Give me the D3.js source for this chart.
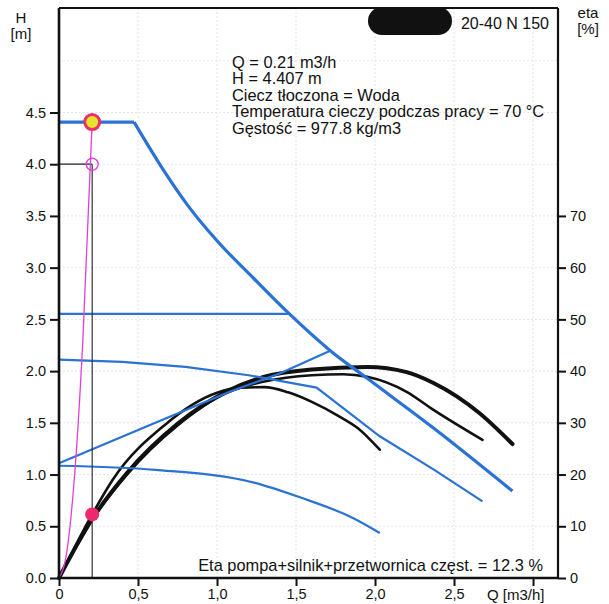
<!DOCTYPE html>
<html>
<head>
<meta charset="utf-8">
<script src="https://cdn.jsdelivr.net/npm/d3@7"></script>
<style>
  body { margin: 0; background: #fff; }
  text { font-family: "Liberation Sans", Arial, sans-serif; fill: #111; }
</style>
</head>
<body>
<div id="chart"></div>
<script>
// pump curves, Q in m3/h, H in m
var flatQ = [0, 0.475];
var flatH = [4.407, 4.407];
var maxQ = [0.475, 0.65, 0.816, 1.0, 1.23, 1.46, 1.715, 1.95, 2.37, 2.87];
var maxH = [4.407, 3.97, 3.60, 3.26, 2.90, 2.55, 2.20, 1.93, 1.45, 0.84];

var constQ = [0, 1.46];
var constH = [2.553, 2.553];

var midQ = [0, 0.4, 0.8, 1.2, 1.63, 2.03, 2.38, 2.68];
var midH = [2.11, 2.09, 2.04, 1.96, 1.84, 1.37, 1.04, 0.74];

var propQ = [0, 0.61, 1.08, 1.40, 1.72];
var propH = [1.11, 1.50, 1.80, 1.98, 2.20];

var minQ = [0, 0.61, 1.24, 1.525, 1.86, 2.03];
var minH = [1.085, 1.045, 0.92, 0.78, 0.58, 0.435];

// eta curves (%)
var etaAQ = [0, 0.21, 0.43, 0.75, 1.07, 1.3, 1.6, 1.95, 2.2, 2.37, 2.66, 2.87];
var etaAV = [0, 11.4, 20.3, 29.8, 36.2, 38.9, 40.3, 40.8, 39.8, 37.7, 31.9, 25.9];
var etaBQ = [0, 0.21, 0.43, 0.75, 1.07, 1.3, 1.6, 1.8, 1.95, 2.2, 2.37, 2.68];
var etaBV = [0, 11.2, 20.0, 29.5, 35.9, 38.0, 39.2, 39.4, 38.9, 36.0, 32.5, 26.7];
var etaCQ = [0, 0.21, 0.34, 0.67, 1.0, 1.15, 1.3, 1.45, 1.61, 1.77, 1.89, 2.03];
var etaCV = [0, 12.3, 19.0, 29.6, 35.8, 36.8, 36.9, 35.9, 33.9, 31.3, 29.0, 24.8];

// system curve
var sysQ = [0, 0.05, 0.1, 0.15, 0.21];
var sysH = [0, 0.26, 1.02, 2.27, 4.407];

var opQ = 0.21, opH = 4.407, opEta = 12.3, refH = 4.0;

var hTicks = [0, 0.5, 1, 1.5, 2, 2.5, 3, 3.5, 4, 4.5];
var qTicks = [0, 0.5, 1, 1.5, 2, 2.5, 3];
var etaTicks = [0, 10, 20, 30, 40, 50, 60, 70];
var gridH = [0.5, 1, 1.5, 2, 2.5, 3, 3.5, 4, 4.5, 5];
var gridQ = [0.5, 1, 1.5, 2, 2.5, 3];

var infoLines = ["Q = 0.21 m3/h", "H = 4.407 m", "Ciecz tłoczona = Woda",
  "Temperatura cieczy podczas pracy = 70 °C", "Gęstość = 977.8 kg/m3"];

var svgWidth = 609, svgHeight = 604;
var margin = {top: 8, right: 51, bottom: 26, left: 59};
var width = svgWidth - margin.left - margin.right;
var height = svgHeight - margin.top - margin.bottom;

var svg = d3.select("#chart").append("svg")
  .attr("width", svgWidth)
  .attr("height", svgHeight);

var g = svg.append("g")
  .attr("transform", `translate(${margin.left}, ${margin.top})`);

var x = d3.scaleLinear().domain([0, 3.158]).range([0, width]);
var y = d3.scaleLinear().domain([0, 5.51]).range([height, 0]);
var yEta = d3.scaleLinear().domain([0, 110.2]).range([height, 0]);

// faint grid
g.selectAll(".gx").data(gridQ).enter().append("line")
  .attr("x1", d => x(d)).attr("x2", d => x(d))
  .attr("y1", 0).attr("y2", height)
  .attr("stroke", "#e2e5ef").attr("stroke-width", 1)
  .attr("stroke-dasharray", "2,2");
g.selectAll(".gy").data(gridH).enter().append("line")
  .attr("x1", 0).attr("x2", width)
  .attr("y1", d => y(d)).attr("y2", d => y(d))
  .attr("stroke", "#e2e5ef").attr("stroke-width", 1)
  .attr("stroke-dasharray", "2,2");

function pts(qs, vs) { return qs.map((q, i) => [q, vs[i]]); }

var lineH = d3.line().x(d => x(d[0])).y(d => y(d[1]));
var smoothH = d3.line().x(d => x(d[0])).y(d => y(d[1])).curve(d3.curveMonotoneX);
var lineEta = d3.line().x(d => x(d[0])).y(d => yEta(d[1])).curve(d3.curveMonotoneX);

var blue = "#2a72d4";

// eta curves
[[etaAQ, etaAV, 4], [etaBQ, etaBV, 2.6], [etaCQ, etaCV, 2.6]].forEach(function(c) {
  g.append("path")
    .attr("d", lineEta(pts(c[0], c[1])))
    .attr("fill", "none").attr("stroke", "#111")
    .attr("stroke-width", c[2]).attr("stroke-linecap", "round");
});

// blue pump curves
g.append("path").attr("d", lineH(pts(constQ, constH)))
  .attr("fill", "none").attr("stroke", blue).attr("stroke-width", 2.2);
g.append("path").attr("d", lineH(pts(midQ, midH)))
  .attr("fill", "none").attr("stroke", blue).attr("stroke-width", 2.2);
g.append("path").attr("d", lineH(pts(propQ, propH)))
  .attr("fill", "none").attr("stroke", blue).attr("stroke-width", 2.2);
g.append("path").attr("d", smoothH(pts(minQ, minH)))
  .attr("fill", "none").attr("stroke", blue).attr("stroke-width", 2.2);
g.append("path").attr("d", lineH(pts(flatQ, flatH)))
  .attr("fill", "none").attr("stroke", blue).attr("stroke-width", 3.2);
g.append("path").attr("d", smoothH(pts(maxQ, maxH)))
  .attr("fill", "none").attr("stroke", blue).attr("stroke-width", 3.2)
  .attr("stroke-linejoin", "round");

// operating point guide lines
g.append("line")
  .attr("x1", 0).attr("x2", x(opQ))
  .attr("y1", y(refH)).attr("y2", y(refH))
  .attr("stroke", "#222").attr("stroke-width", 1.2);
g.append("line")
  .attr("x1", x(opQ)).attr("x2", x(opQ))
  .attr("y1", y(refH)).attr("y2", height)
  .attr("stroke", "#333").attr("stroke-width", 1.2);

// system curve
g.append("path").attr("d", smoothH(pts(sysQ, sysH)))
  .attr("fill", "none").attr("stroke", "#e23fd6").attr("stroke-width", 1.3);

g.append("circle")
  .attr("cx", x(opQ)).attr("cy", y(refH)).attr("r", 6)
  .attr("fill", "none").attr("stroke", "#e03cd8").attr("stroke-width", 1.3);
g.append("circle")
  .attr("cx", x(opQ)).attr("cy", yEta(opEta)).attr("r", 7)
  .attr("fill", "#f0266f");
g.append("circle")
  .attr("cx", x(opQ)).attr("cy", y(opH)).attr("r", 7.5)
  .attr("fill", "#e6e32a").attr("stroke", "#ea2f6c").attr("stroke-width", 3);

// axes
var leftAxis = d3.axisLeft(y).tickValues(hTicks)
  .tickFormat(d3.format(".1f")).tickSize(9).tickPadding(4);
var bottomAxis = d3.axisBottom(x).tickValues(qTicks)
  .tickFormat(d => d === 0 ? "0" : d === 3 ? "" : d3.format(".1f")(d).replace(".", ","))
  .tickSize(8).tickPadding(3);
var rightAxis = d3.axisRight(yEta).tickValues(etaTicks)
  .tickSize(8).tickPadding(4);

function styleAxis(sel) {
  sel.select(".domain").remove();
  sel.selectAll(".tick line").attr("stroke", "#111").attr("stroke-width", 2);
  sel.selectAll(".tick text").attr("font-size", "14.5px").attr("fill", "#111")
    .attr("font-family", "Liberation Sans, Arial, sans-serif");
}

g.append("g").call(leftAxis).call(styleAxis);
g.append("g").attr("transform", `translate(0, ${height})`).call(bottomAxis).call(styleAxis);
g.append("g").attr("transform", `translate(${width}, 0)`).call(rightAxis).call(styleAxis);

// frame
g.append("line").attr("x1", 0).attr("x2", 0).attr("y1", 0).attr("y2", height)
  .attr("stroke", "#111").attr("stroke-width", 2.6);
g.append("line").attr("x1", 0).attr("x2", width).attr("y1", height).attr("y2", height)
  .attr("stroke", "#111").attr("stroke-width", 2.6);
g.append("line").attr("x1", width).attr("x2", width).attr("y1", 0).attr("y2", height)
  .attr("stroke", "#111").attr("stroke-width", 2.2);
g.append("line").attr("x1", 0).attr("x2", width).attr("y1", 0).attr("y2", 0)
  .attr("stroke", "#111").attr("stroke-width", 2);

// axis titles
svg.append("text").attr("x", 21).attr("y", 23).attr("text-anchor", "middle")
  .attr("font-size", "15px").text("H");
svg.append("text").attr("x", 21).attr("y", 39).attr("text-anchor", "middle")
  .attr("font-size", "15px").text("[m]");
svg.append("text").attr("x", 588).attr("y", 18).attr("text-anchor", "middle")
  .attr("font-size", "15px").text("eta");
svg.append("text").attr("x", 588).attr("y", 34).attr("text-anchor", "middle")
  .attr("font-size", "15px").text("[%]");
svg.append("text").attr("x", 487).attr("y", 600)
  .attr("font-size", "15px").text("Q [m3/h]");

// title with redacted part
svg.append("rect").attr("x", 368).attr("y", 7).attr("width", 84).attr("height", 28)
  .attr("rx", 14).attr("fill", "#111");
svg.append("text").attr("x", 549).attr("y", 29).attr("text-anchor", "end")
  .attr("font-size", "16px").text("20-40 N 150");

// info block
svg.append("g").selectAll("text").data(infoLines).enter().append("text")
  .attr("x", 232).attr("y", (d, i) => 68 + i * 16.4)
  .attr("font-size", "16.4px").text(d => d);

svg.append("text").attr("x", 543).attr("y", 571).attr("text-anchor", "end")
  .attr("font-size", "16.4px").text("Eta pompa+silnik+przetwornica częst. = 12.3 %");
</script>
</body>
</html>
